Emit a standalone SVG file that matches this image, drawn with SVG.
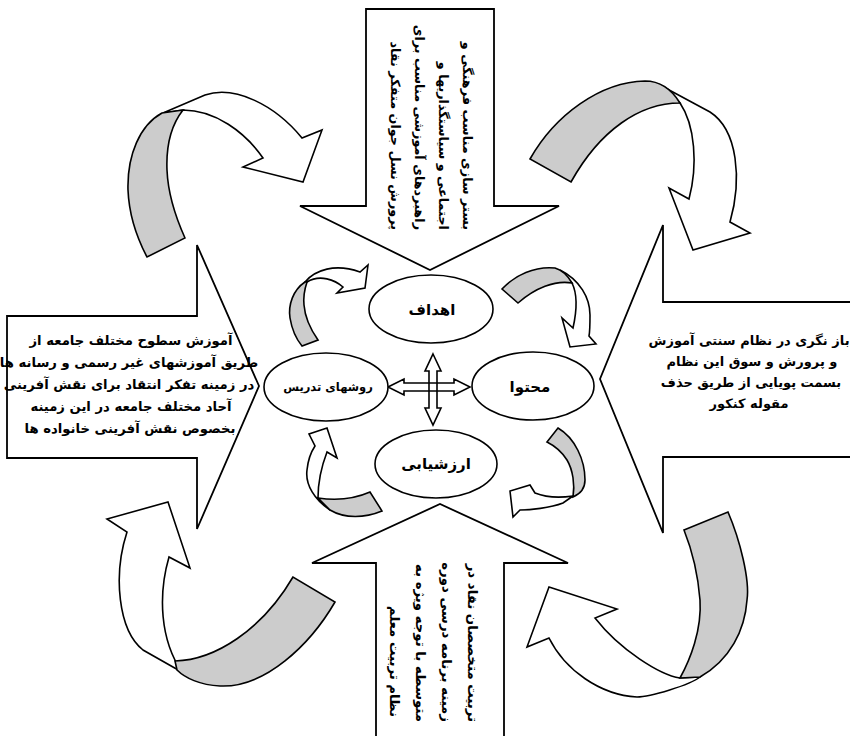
<svg xmlns="http://www.w3.org/2000/svg" width="850" height="736" viewBox="0 0 850 736">
<style>
.big{fill:#fff;stroke:#000;stroke-width:1.8;stroke-linejoin:miter}
.w{fill:#fff;stroke:#000;stroke-width:1.6;stroke-linejoin:miter}
.g{fill:#cccccc;stroke:#000;stroke-width:1.6;stroke-linejoin:miter}
.el{fill:#fff;stroke:#000;stroke-width:1.6}
.t{font-family:"DejaVu Sans",sans-serif;font-weight:bold;fill:#000}
.pt{font-size:12.8px}
.pb{font-size:13.3px}
.pl{font-size:13.2px}
.pr{font-size:13px}
.n{font-size:15px;text-anchor:middle}
</style>
<rect width="850" height="736" fill="#fff"/>

<g id="arrow-top">
<polygon class="big" points="366,9 494,9 494,206 559,206 430,270 300,206 366,206"/>
<g class="t pt" direction="rtl" text-anchor="start">
<text transform="translate(463,230) rotate(90)">بستر سازی مناسب فرهنگی و</text>
<text transform="translate(439,230) rotate(90)">اجتماعی و سیاستگذاریها و</text>
<text transform="translate(415,230) rotate(90)">راهبردهای آموزشی مناسب برای</text>
<text transform="translate(391,230) rotate(90)">پرورش نسل جوان متفکر نقاد</text>
</g>
</g>

<g id="arrow-bottom">
<polygon class="big" points="376,740 376,563 312,563 440,504 568,563 504,563 504,740"/>
<g class="t pb" direction="rtl" text-anchor="start">
<text transform="translate(468,722) rotate(90)">تربیت  متخصصان نقاد در</text>
<text transform="translate(442,722) rotate(90)">زمینه  برنامه درسی دوره</text>
<text transform="translate(416,722) rotate(90)">متوسطه با توجه ویژه به</text>
<text transform="translate(390,717) rotate(90)">نظام تربیت معلم</text>
</g>
</g>

<g id="arrow-left">
<polygon class="big" points="7,316 197,316 197,245 259,386 197,529 197,458 7,458"/>
<g class="t pl" text-anchor="middle">
<text x="131" y="345">آموزش سطوح مختلف جامعه از</text>
<text x="129" y="367">طریق آموزشهای غیر رسمی و رسانه ها</text>
<text x="129" y="389">در زمینه تفکر انتقاد  برای نقش آفرینی</text>
<text x="131" y="411">آحاد مختلف جامعه در این زمینه</text>
<text x="130" y="433">بخصوص نقش آفرینی خانواده ها</text>
</g>
</g>

<g id="arrow-right">
<polygon class="big" points="852,302 663,302 663,225 600,379 663,533 663,457 852,457"/>
<g class="t pr" text-anchor="middle">
<text x="749" y="345">باز نگری در نظام سنتی آموزش</text>
<text x="752" y="366">و پرورش   و سوق این نظام</text>
<text x="751" y="387">بسمت پویایی از طریق حذف</text>
<text x="749" y="408">مقوله کنکور</text>
</g>
</g>

<g id="connectors">
<g id="curve-big-tl">
<path class="w" d="M163,113 L205,95 C235,85 275,105 302,138 L322,130 L303,182 L243,167 L263,158 C245,132 215,110 183,110 Z"/>
<path class="g" d="M162,113 C140,125 127,155 128,190 C129,215 137,238 147,257 L185,238 C176,218 168,195 167,170 C166,145 172,124 183,110 Z"/>
</g>
<g id="curve-big-tr">
<path class="w" d="M658,84 L710,112 C738,130 742,180 730,222 L750,233 L693,250 L669,188 L689,199 C698,165 695,125 680,103 Z"/>
<path class="g" d="M530,159 C555,115 600,82 645,81 C660,81 672,90 680,103 C640,103 600,130 571,182 Z"/>
</g>
<g id="curve-big-bl">
<path class="w" d="M180,671 L143,650 C118,630 113,575 127,532 L107,519 L168,502 L190,568 L169,557 C158,595 160,640 182,672 Z"/>
<path class="g" d="M175,661 C215,660 262,630 293,577 L335,602 C310,645 265,688 220,686 C200,685 185,678 177,670 Z"/>
</g>
<g id="curve-big-br">
<path class="w" d="M680,678 C660,675 620,650 595,618 L617,609 L549,587 L527,647 L549,638 C565,670 600,695 637,697 C650,697 690,685 700,677 Z"/>
<path class="g" d="M684,530 L728,512 C740,540 750,580 747,600 C745,630 730,660 700,677 L680,678 C690,660 702,630 700,600 C698,575 692,550 684,530 Z"/>
</g>
<g id="curve-small-tl">
<path class="w" d="M305,282 C315,270 335,263 360,272 L368,265 L365,288 L337,293 L343,287 C335,280 320,274 307,282 Z"/>
<path class="g" d="M305,282 C293,290 288,305 290,318 C292,330 297,340 302,346 L318,340 C311,330 305,318 304,305 C303,295 305,288 307,282 Z"/>
</g>
<g id="curve-small-tr">
<path class="w" d="M560,270 C580,280 590,298 590,315 C590,325 590,331 589,336 L596,344 L570,347 L562,318 L573,328 C577,310 577,293 572,283 Z"/>
<path class="g" d="M502,289 C515,275 535,266 555,268 C562,270 568,276 572,283 C555,280 535,288 518,303 Z"/>
</g>
<g id="curve-small-bl">
<path class="w" d="M330,510 C315,500 305,485 307,470 C308,460 311,452 315,446 L309,434 L327,428 L337,458 L327,452 C322,465 318,480 318,498 Z"/>
<path class="g" d="M318,498 C332,500 352,500 370,492 L382,511 C365,518 345,519 330,510 Z"/>
</g>
<g id="curve-small-br">
<path class="w" d="M573,496 C560,498 545,497 535,493 L530,485 L510,491 L513,517 L520,510 C530,510 550,508 563,503 Z"/>
<path class="g" d="M547,442 L558,428 C575,438 585,460 585,480 C585,488 580,494 573,497 C575,485 573,470 567,460 C562,452 555,446 547,442 Z"/>
</g>
<g id="cross-arrows">
<polygon class="w" points="388,387 404,379 404,383 454,383 454,379 470,387 454,395 454,391 404,391 404,395"/>
<polygon class="w" style="fill:none" points="433,354 441,371 437,371 437,408 441,408 433,425 425,408 429,408 429,371 425,371"/>
</g>
</g>

<g id="node-goals">
<ellipse class="el" cx="431" cy="309" rx="62" ry="34"/>
<text class="t n" x="432" y="315">اهداف</text>
</g>
<g id="node-content">
<ellipse class="el" cx="533" cy="386" rx="61" ry="34"/>
<text class="t n" x="530" y="392">محتوا</text>
</g>
<g id="node-methods">
<ellipse class="el" cx="326" cy="387" rx="62" ry="34"/>
<text class="t" x="328" y="391" style="font-size:11.5px;text-anchor:middle">روشهای تدریس</text>
</g>
<g id="node-eval">
<ellipse class="el" cx="436" cy="464" rx="61" ry="34"/>
<text class="t n" x="436" y="469">ارزشیابی</text>
</g>
</svg>
